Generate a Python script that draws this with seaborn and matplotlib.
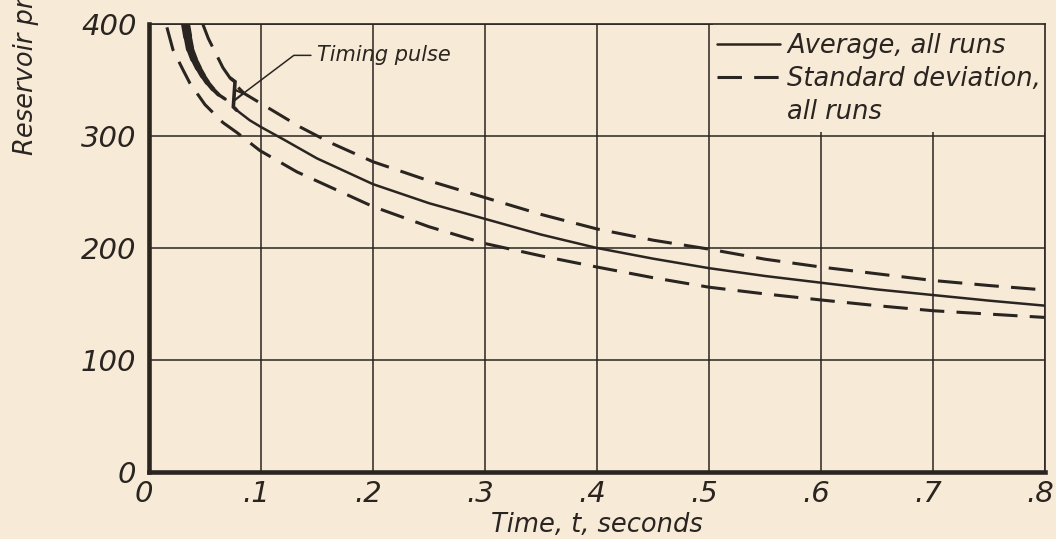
import numpy as np
import pandas as pd
import matplotlib
matplotlib.use("Agg")
import matplotlib.pyplot as plt
import matplotlib.transforms as mtransforms
from matplotlib.lines import Line2D
from matplotlib.patches import Rectangle
from matplotlib.collections import LineCollection
import seaborn as sns

# ---- data -------------------------------------------------------------
# Average reservoir pressure, heavy early portion (before the timing pulse)
t_avg_early = [0.0326, 0.0345, 0.0366, 0.040, 0.044, 0.048, 0.052, 0.057, 0.062, 0.068]
p_avg_early = [400, 389, 378, 369, 361, 354, 348, 342, 337, 333]

# Average reservoir pressure after the timing pulse
t_avg = [0.0783, 0.09, 0.10, 0.12, 0.15, 0.20, 0.25, 0.30, 0.35, 0.40,
         0.45, 0.50, 0.55, 0.60, 0.65, 0.70, 0.75, 0.80]
p_avg = [323, 314, 308, 297, 280, 257, 240, 226, 212, 200,
         190.5, 182, 175, 169, 163, 158, 153, 148.5]

# Upper standard-deviation bound
t_upper = [0.048, 0.053, 0.059, 0.066, 0.075, 0.085, 0.10, 0.135, 0.162, 0.20,
           0.25, 0.30, 0.35, 0.40, 0.45, 0.50, 0.55, 0.60, 0.65, 0.70, 0.75, 0.80]
p_upper = [400, 387, 375, 361, 348, 338, 329, 308, 294, 277,
           260, 245, 230, 217, 207, 199, 190, 183, 177, 171, 166.5, 162.5]

# Lower standard-deviation bound
t_lower = [0.016, 0.0214, 0.0304, 0.0366, 0.05, 0.066, 0.0786, 0.099, 0.132, 0.20,
           0.25, 0.30, 0.35, 0.40, 0.45, 0.50, 0.55, 0.60, 0.65, 0.70, 0.75, 0.80]
p_lower = [397, 377, 359, 347, 328, 312, 303, 287, 268, 237,
           219, 204, 193, 183, 173.5, 165, 159, 153.6, 148.5, 144, 141, 138]

# Timing-pulse mark drawn across the average curve
pulse_stem_t = [0.0729, 0.0768, 0.0753, 0.0783]
pulse_stem_p = [351.5, 348.5, 326, 323]
pulse_flag_t = [0.0772, 0.0842, 0.0765]
pulse_flag_p = [341, 338, 332]

x_ticks = [0, 0.1, 0.2, 0.3, 0.4, 0.5, 0.6, 0.7, 0.8]
x_tick_labels = ["0", ".1", ".2", ".3", ".4", ".5", ".6", ".7", ".8"]
y_ticks = [0, 100, 200, 300, 400]
y_tick_labels = ["0", "100", "200", "300", "400"]

# ---- style ------------------------------------------------------------
paper = "#f7ebd8"
ink = "#2b2521"

sns.set_theme(style="white")
plt.rcParams["font.family"] = ["DejaVu Sans"]
plt.rcParams["font.style"] = "oblique"
plt.rcParams["text.color"] = ink

fig = plt.figure(figsize=(10.56, 5.39), dpi=100, facecolor=paper)
ax = fig.add_axes([149 / 1056, (539 - 472) / 539, 896 / 1056, 448 / 539])
ax.set_facecolor(paper)

# grid
ax.set_axisbelow(True)
ax.grid(True, color=ink, lw=1.1)

# the top-right cell is kept clear for the legend
ax.add_patch(Rectangle((0.504, 303.5), 0.3, 100, facecolor=paper,
                       edgecolor="none", zorder=1))

dash = (8, 4)

df_avg = pd.DataFrame({"t": t_avg, "p": p_avg})
df_up = pd.DataFrame({"t": t_upper, "p": p_upper})
df_lo = pd.DataFrame({"t": t_lower, "p": p_lower})

sns.lineplot(data=df_avg, x="t", y="p", ax=ax, color=ink, lw=1.8,
             estimator=None, sort=False, zorder=3)
sns.lineplot(data=df_up, x="t", y="p", ax=ax, color=ink, lw=2.2,
             estimator=None, sort=False, zorder=3).lines[-1].set_dashes(dash)
sns.lineplot(data=df_lo, x="t", y="p", ax=ax, color=ink, lw=2.2,
             estimator=None, sort=False, zorder=3).lines[-1].set_dashes(dash)

# heavy tapering trace before the pulse
pts = np.column_stack([t_avg_early, p_avg_early])
segs = np.stack([pts[:-1], pts[1:]], axis=1)
widths = np.linspace(6.5, 2.4, len(segs))
ax.add_collection(LineCollection(segs, linewidths=widths, colors=ink,
                                 capstyle="round", zorder=3))

# timing pulse mark
ax.plot(pulse_stem_t, pulse_stem_p, color=ink, lw=2.6, zorder=4,
        solid_joinstyle="miter")
ax.plot(pulse_flag_t, pulse_flag_p, color=ink, lw=1.6, zorder=4)

ax.annotate("Timing pulse", xy=(pulse_flag_t[1], pulse_flag_p[1]),
            xytext=(0.15, 372), fontsize=15, ha="left", va="center",
            color=ink,
            arrowprops=dict(arrowstyle="-", color=ink, lw=1.1,
                            shrinkA=2, shrinkB=0,
                            connectionstyle="angle,angleA=0,angleB=37,rad=0"))

# axes limits, ticks
ax.set_xlim(0, 0.8)
ax.set_ylim(0, 400)
ax.set_xticks(x_ticks)
ax.set_xticklabels(x_tick_labels)
ax.set_yticks(y_ticks)
ax.set_yticklabels(y_tick_labels)
ax.tick_params(axis="both", length=0, labelsize=21, colors=ink)
ax.tick_params(axis="x", pad=6)
ax.tick_params(axis="y", pad=9)

# hand-lettered numerals sit a little left of their grid line
shift = mtransforms.ScaledTranslation(-5 / 100, 0, fig.dpi_scale_trans)
for lab in ax.get_xticklabels():
    lab.set_transform(lab.get_transform() + shift)

for side in ["left", "bottom"]:
    ax.spines[side].set_linewidth(3.3)
    ax.spines[side].set_color(ink)
for side in ["top", "right"]:
    ax.spines[side].set_linewidth(1.2)
    ax.spines[side].set_color(ink)

ax.set_xlabel("Time, t, seconds", fontsize=18.5, color=ink)
ax.xaxis.set_label_coords(0.5, -0.09)
ax.set_ylabel("")

fig.text(26 / 1056, 1 - 155 / 539, "Reservoir pressure, p, psia",
         rotation=90, rotation_mode="anchor", ha="left", va="center",
         fontsize=18.5, color=ink)

# legend
handles = [
    Line2D([], [], color=ink, lw=1.8),
    Line2D([], [], color=ink, lw=2.2, dashes=dash),
    Line2D([], [], color="none"),
]
labels = ["Average, all runs", "Standard deviation,", "all runs"]
fs = 18.5
fpx = fs * 100 / 72
ax.legend(handles, labels, loc="upper left",
          bbox_to_anchor=((717 - 149) / 896, (472 - 33) / 448),
          frameon=False, fontsize=fs, borderpad=0, borderaxespad=0,
          handlelength=63 / fpx, handletextpad=7 / fpx, labelspacing=0.27)

fig.savefig("out.png", dpi=100, facecolor=paper)
